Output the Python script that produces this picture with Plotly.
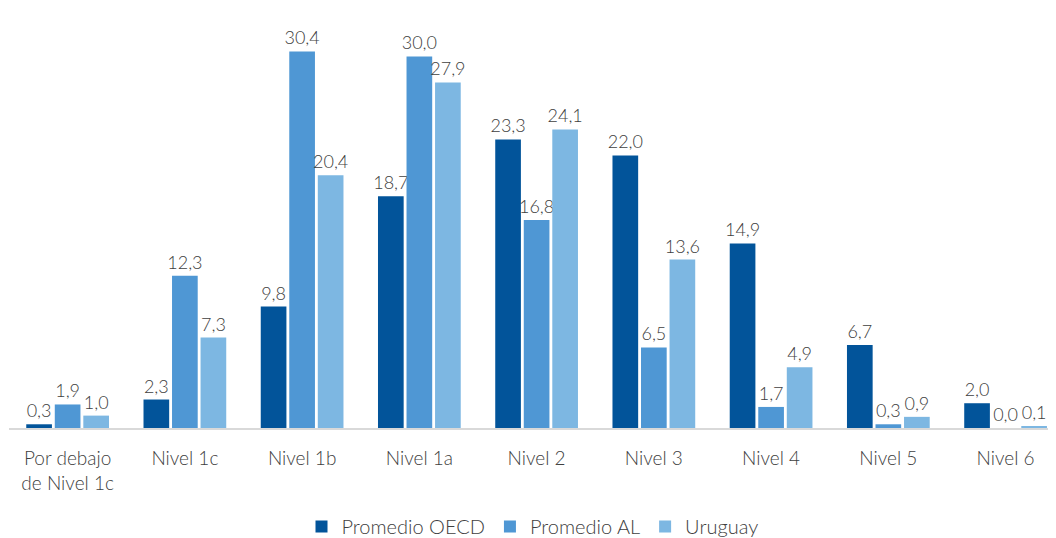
import plotly.graph_objects as go

categories = ["Por debajo<br>de Nivel 1c", "Nivel 1c", "Nivel 1b", "Nivel 1a", "Nivel 2",
              "Nivel 3", "Nivel 4", "Nivel 5", "Nivel 6"]
oecd = [0.3, 2.3, 9.8, 18.7, 23.3, 22.0, 14.9, 6.7, 2.0]
al = [1.9, 12.3, 30.4, 30.0, 16.8, 6.5, 1.7, 0.3, 0.0]
uruguay = [1.0, 7.3, 20.4, 27.9, 24.1, 13.6, 4.9, 0.9, 0.1]

series = [("Promedio OECD", oecd, "#02549A"),
          ("Promedio AL", al, "#4F97D4"),
          ("Uruguay", uruguay, "#7DB7E2")]

FONT = "Lato"
TXT = "#404040"

fig = go.Figure()
for name, vals, col in series:
    fig.add_trace(go.Bar(
        x=categories, y=vals, name=name, marker_color=col, marker_line_width=0,
        text=[f"{v:.1f}".replace(".", ",") for v in vals],
        textposition="outside", cliponaxis=False, constraintext="none",
        textfont=dict(family=FONT, size=18, color=TXT, weight=300),
    ))

fig.update_layout(
    width=1048, height=538,
    margin=dict(l=1, r=0, t=10, b=111),
    paper_bgcolor="white", plot_bgcolor="white",
    barmode="group", bargap=0.27, bargroupgap=0.1,
    font=dict(family=FONT, size=19, color=TXT, weight=300),
    showlegend=True,
    legend=dict(orientation="h", x=0.5, xanchor="center", y=-0.24, yanchor="middle",
                font=dict(family=FONT, size=20, color=TXT, weight=300),
                itemwidth=30, traceorder="normal"),
    xaxis=dict(range=[-0.5, 8.43], showline=True, linecolor="#D9D9D9", linewidth=2,
               ticks="", ticklabelstandoff=12, showgrid=False,
               tickfont=dict(family=FONT, size=19, color=TXT, weight=300)),
    yaxis=dict(range=[0, 33.1], visible=False, showgrid=False, zeroline=False),
)

fig.write_html("out.html")
